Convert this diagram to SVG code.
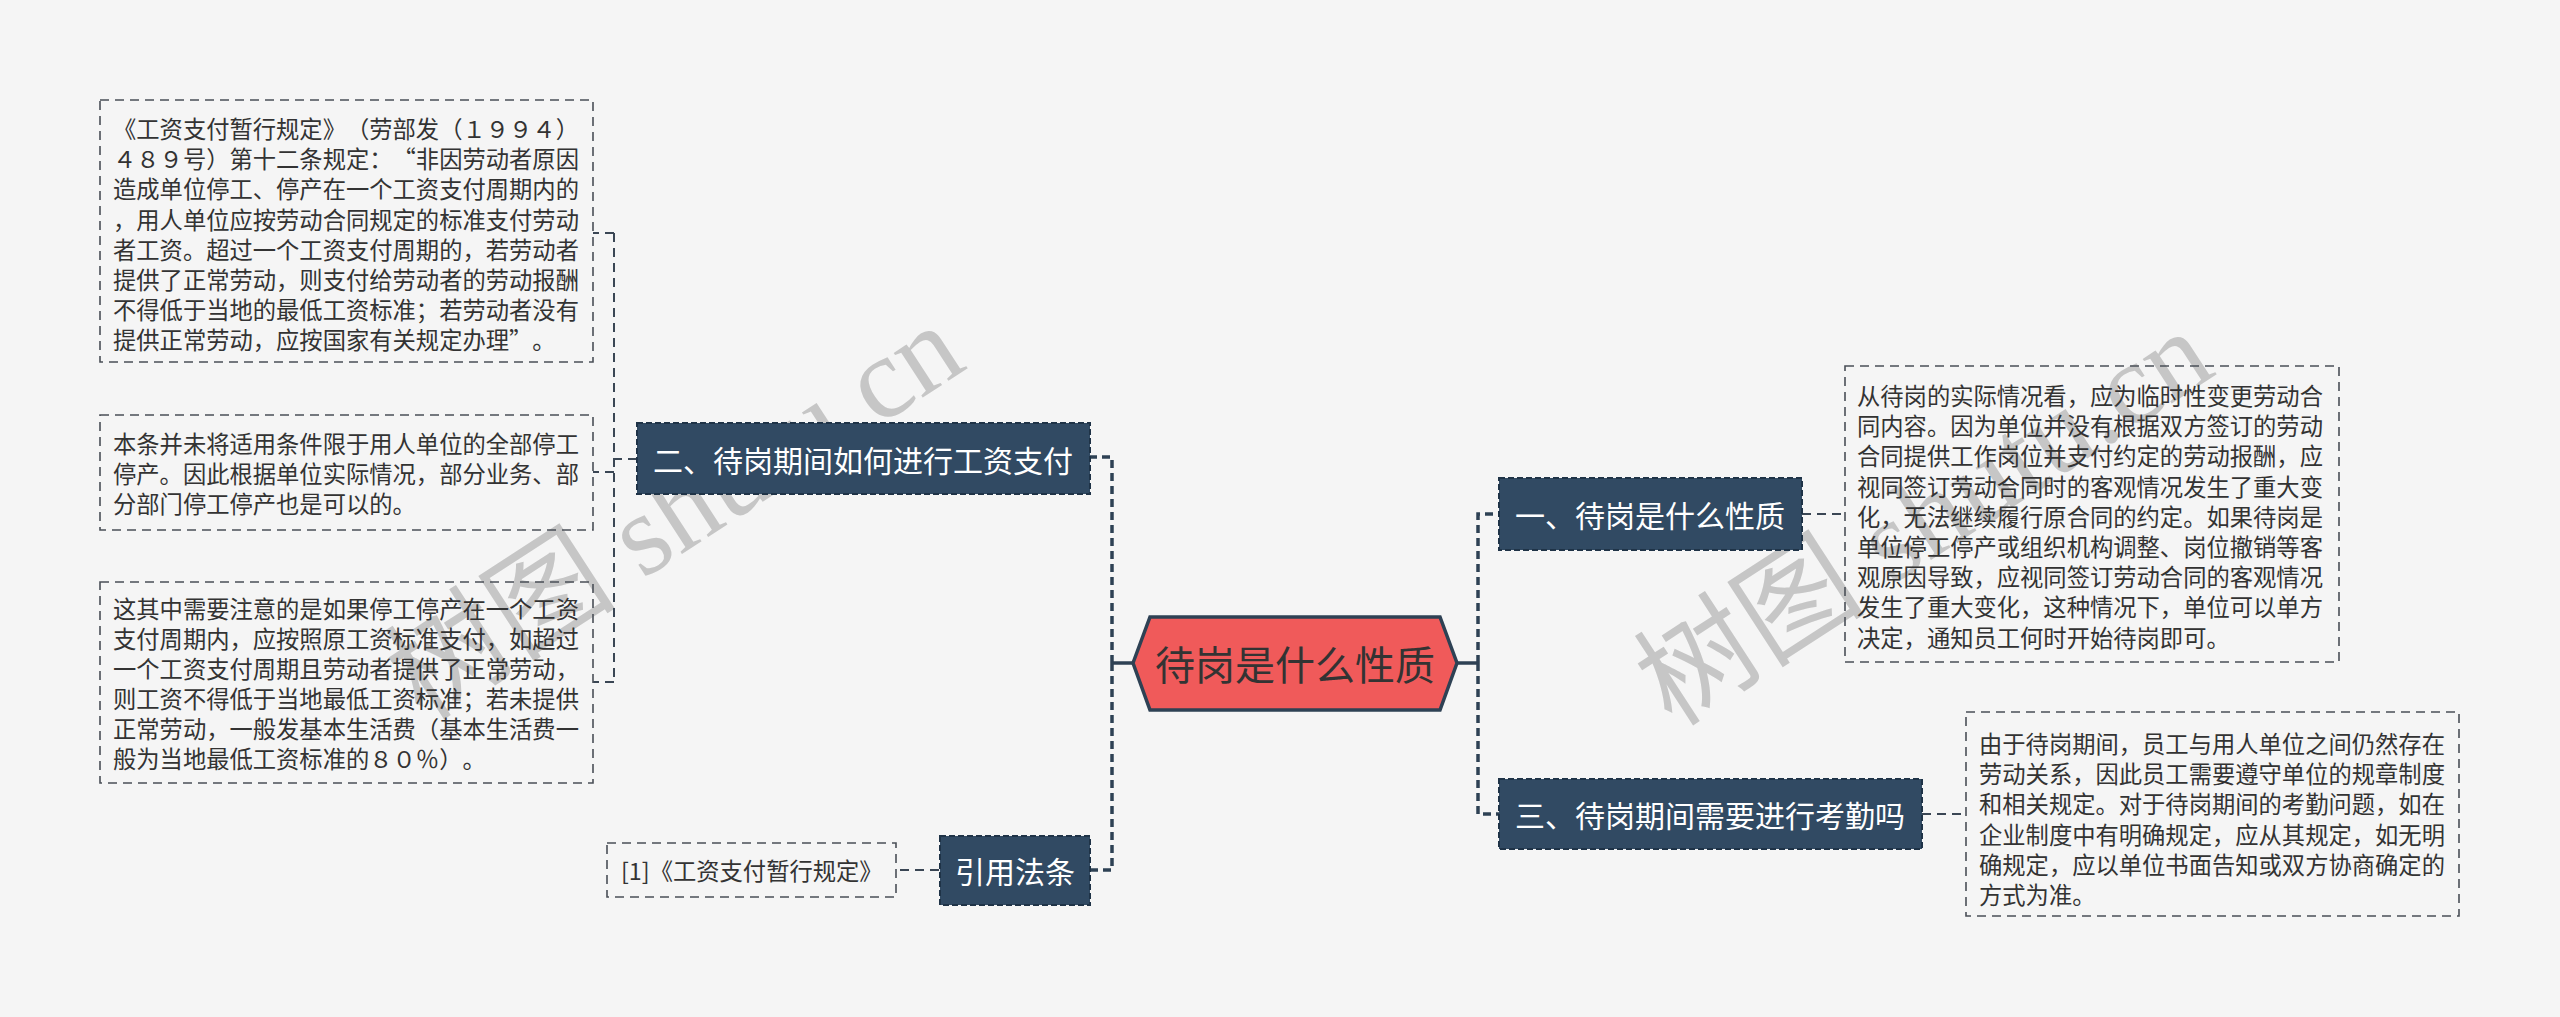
<svg xmlns="http://www.w3.org/2000/svg" width="2560" height="1017" viewBox="0 0 2560 1017">
<style>
.bg{fill:#f5f5f5}
.wm{font-family:"Liberation Serif","Noto Sans CJK SC",serif;font-size:116px;fill:#c6c6c6}
.box{fill:none;stroke:#4a4f57;stroke-width:1.6;stroke-dasharray:9 6}
.bt{font-family:"Noto Sans CJK SC","Noto Sans",sans-serif;font-size:23.3px;fill:#333333;dominant-baseline:central;text-spacing-trim:space-all}
.node{fill:#314a63;stroke:#1f3347;stroke-width:2;stroke-dasharray:6 3}
.nt{font-family:"Noto Sans CJK SC","Noto Sans",sans-serif;font-size:30px;fill:#ffffff;text-anchor:middle;dominant-baseline:central;text-spacing-trim:space-all}
.hex{fill:#f05a5a;stroke:#2e4154;stroke-width:3.5}
.ht{font-family:"Noto Sans CJK SC","Noto Sans",sans-serif;font-size:40px;fill:#333333;text-anchor:middle;dominant-baseline:central}
.main{fill:none;stroke:#2e4154;stroke-width:3.5;stroke-dasharray:8 5}
.mainsolid{fill:none;stroke:#2e4154;stroke-width:3.5}
.sub{fill:none;stroke:#3a4654;stroke-width:2;stroke-dasharray:9 6}
</style>
<rect class="bg" x="0" y="0" width="2560" height="1017"/>
<g id="watermarks">
<text class="wm" x="675" y="512" text-anchor="middle" dominant-baseline="central" transform="rotate(-33 675 512)">树图 shutu.cn</text>
<text class="wm" x="1924" y="518" text-anchor="middle" dominant-baseline="central" transform="rotate(-33 1924 518)">树图 shutu.cn</text>
</g>
<g id="connectors">
<path class="mainsolid" d="M1133 663 H1112"/>
<path class="main" d="M1112 663 V457 H1090"/>
<path class="main" d="M1112 663 V870 H1090"/>
<path class="mainsolid" d="M1457 663 H1478"/>
<path class="main" d="M1478 663 V514 H1499"/>
<path class="main" d="M1478 663 V814 H1499"/>
<path class="sub" d="M637 459 H614"/>
<path class="sub" d="M614 233 V682"/>
<path class="sub" d="M614 233 H593"/>
<path class="sub" d="M614 472 H593"/>
<path class="sub" d="M614 682 H593"/>
<path class="sub" d="M1802 514 H1845"/>
<path class="sub" d="M1922 814 H1966"/>
<path class="sub" d="M939 870 H896"/>
</g>
<g id="root">
<polygon class="hex" points="1133,663 1150,617 1440,617 1457,663 1440,710 1150,710"/>
<text class="ht" x="1295" y="663">待岗是什么性质</text>
</g>
<g id="n2">
<rect class="node" x="637" y="423" width="453" height="71"/>
<text class="nt" x="863" y="459">二、待岗期间如何进行工资支付</text>
</g>
<g id="ncite">
<rect class="node" x="940" y="836" width="150" height="69"/>
<text class="nt" x="1015" y="870">引用法条</text>
</g>
<g id="n1">
<rect class="node" x="1499" y="478" width="303" height="72"/>
<text class="nt" x="1650" y="514">一、待岗是什么性质</text>
</g>
<g id="n3">
<rect class="node" x="1499" y="779" width="423" height="70"/>
<text class="nt" x="1710" y="814">三、待岗期间需要进行考勤吗</text>
</g>
<g id="leaf-l1">
<rect class="box" x="100" y="100" width="493" height="262"/>
<text class="bt" x="113">
<tspan x="113" y="128">《工资支付暂行规定》（劳部发（１９９４）</tspan>
<tspan x="113" y="158.2">４８９号）第十二条规定：“非因劳动者原因</tspan>
<tspan x="113" y="188.4">造成单位停工、停产在一个工资支付周期内的</tspan>
<tspan x="113" y="218.6">，用人单位应按劳动合同规定的标准支付劳动</tspan>
<tspan x="113" y="248.8">者工资。超过一个工资支付周期的，若劳动者</tspan>
<tspan x="113" y="279">提供了正常劳动，则支付给劳动者的劳动报酬</tspan>
<tspan x="113" y="309.2">不得低于当地的最低工资标准；若劳动者没有</tspan>
<tspan x="113" y="339.4">提供正常劳动，应按国家有关规定办理”。</tspan>
</text>
</g>
<g id="leaf-l2">
<rect class="box" x="100" y="415" width="493" height="115"/>
<text class="bt" x="113">
<tspan x="113" y="443">本条并未将适用条件限于用人单位的全部停工</tspan>
<tspan x="113" y="473">停产。因此根据单位实际情况，部分业务、部</tspan>
<tspan x="113" y="503">分部门停工停产也是可以的。</tspan>
</text>
</g>
<g id="leaf-l3">
<rect class="box" x="100" y="582" width="493" height="201"/>
<text class="bt" x="113">
<tspan x="113" y="608">这其中需要注意的是如果停工停产在一个工资</tspan>
<tspan x="113" y="638">支付周期内，应按照原工资标准支付，如超过</tspan>
<tspan x="113" y="668">一个工资支付周期且劳动者提供了正常劳动，</tspan>
<tspan x="113" y="698">则工资不得低于当地最低工资标准；若未提供</tspan>
<tspan x="113" y="728">正常劳动，一般发基本生活费（基本生活费一</tspan>
<tspan x="113" y="758">般为当地最低工资标准的８０％）。</tspan>
</text>
</g>
<g id="leaf-cite">
<rect class="box" x="607" y="843" width="289" height="54"/>
<text class="bt" x="621" y="870">[1]《工资支付暂行规定》</text>
</g>
<g id="leaf-r1">
<rect class="box" x="1845" y="366" width="494" height="296"/>
<text class="bt" x="1857">
<tspan x="1857" y="395">从待岗的实际情况看，应为临时性变更劳动合</tspan>
<tspan x="1857" y="425.2">同内容。因为单位并没有根据双方签订的劳动</tspan>
<tspan x="1857" y="455.4">合同提供工作岗位并支付约定的劳动报酬，应</tspan>
<tspan x="1857" y="485.6">视同签订劳动合同时的客观情况发生了重大变</tspan>
<tspan x="1857" y="515.8">化，无法继续履行原合同的约定。如果待岗是</tspan>
<tspan x="1857" y="546">单位停工停产或组织机构调整、岗位撤销等客</tspan>
<tspan x="1857" y="576.2">观原因导致，应视同签订劳动合同的客观情况</tspan>
<tspan x="1857" y="606.4">发生了重大变化，这种情况下，单位可以单方</tspan>
<tspan x="1857" y="636.6">决定，通知员工何时开始待岗即可。</tspan>
</text>
</g>
<g id="leaf-r3">
<rect class="box" x="1966" y="712" width="493" height="204"/>
<text class="bt" x="1979">
<tspan x="1979" y="743">由于待岗期间，员工与用人单位之间仍然存在</tspan>
<tspan x="1979" y="773.2">劳动关系，因此员工需要遵守单位的规章制度</tspan>
<tspan x="1979" y="803.4">和相关规定。对于待岗期间的考勤问题，如在</tspan>
<tspan x="1979" y="833.6">企业制度中有明确规定，应从其规定，如无明</tspan>
<tspan x="1979" y="863.8">确规定，应以单位书面告知或双方协商确定的</tspan>
<tspan x="1979" y="894">方式为准。</tspan>
</text>
</g>
</svg>
